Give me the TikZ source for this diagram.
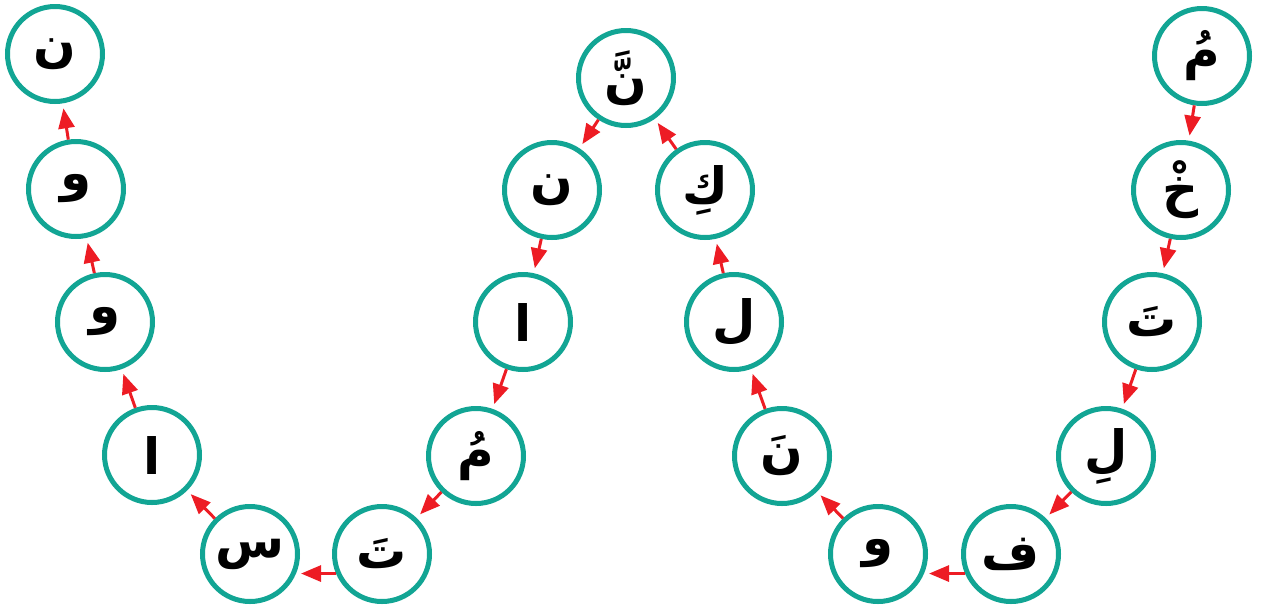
\documentclass[tikz,border=0pt]{standalone}
\usepackage{fontspec}
\usetikzlibrary{arrows.meta}
\TeXXeTstate=1
\newfontfamily\arabicfont[Script=Arabic]{DejaVu Sans}
\definecolor{ringteal}{RGB}{18,165,148}
\definecolor{arrred}{RGB}{237,28,36}
\tikzset{
  letter/.style={circle, draw=ringteal, line width=5pt, minimum size=95pt, inner sep=0pt, fill=white,
    font=\arabicfont\fontsize{50}{56}\selectfont\bfseries},
  link/.style={draw=arrred, line width=3pt, -{Triangle[length=20pt,width=16pt]}, shorten >=5pt}
}
\newcommand{\ar}[1]{\beginR #1\endR}
\begin{document}
\begin{tikzpicture}[x=1pt,y=-1pt]
\useasboundingbox (0,0) rectangle (1261,606);
\node[letter] (n1) at (55,54) {\ar{ن}};
\node[letter] (w1) at (76,189) {\ar{و}};
\node[letter] (w2) at (105,322) {\ar{و}};
\node[letter] (a1) at (152,455) {\ar{ا}};
\node[letter] (s) at (250,554) {\ar{س}};
\node[letter] (t1) at (382,554) {\ar{تَ}};
\node[letter] (m1) at (476,456) {\ar{مُ}};
\node[letter] (a2) at (523,322) {\ar{ا}};
\node[letter] (n2) at (552,190) {\ar{ن}};
\node[letter] (n3) at (626,78) {\ar{نَّ}};
\node[letter] (k) at (705,190) {\ar{كِ}};
\node[letter] (l1) at (734,322) {\ar{ل}};
\node[letter] (n4) at (782,456) {\ar{نَ}};
\node[letter] (w3) at (878,554) {\ar{و}};
\node[letter] (f) at (1011,554) {\ar{ف}};
\node[letter] (l2) at (1106,456) {\ar{لِ}};
\node[letter] (t2) at (1152,322) {\ar{تَ}};
\node[letter] (kh) at (1181,190) {\ar{خْ}};
\node[letter] (m2) at (1202,56) {\ar{مُ}};
\draw[link] (m2) -- (kh);
\draw[link] (kh) -- (t2);
\draw[link] (t2) -- (l2);
\draw[link] (l2) -- (f);
\draw[link] (f.203) -- (w3.337);
\draw[link] (w3) -- (n4);
\draw[link] (n4) -- (l1);
\draw[link] (l1) -- (k);
\draw[link] (k) -- (n3);
\draw[link] (n3) -- (n2);
\draw[link] (n2) -- (a2);
\draw[link] (a2) -- (m1);
\draw[link] (m1) -- (t1);
\draw[link] (t1.203) -- (s.337);
\draw[link] (s) -- (a1);
\draw[link] (a1) -- (w2);
\draw[link] (w2) -- (w1);
\draw[link] (w1) -- (n1);
\end{tikzpicture}
\end{document}
